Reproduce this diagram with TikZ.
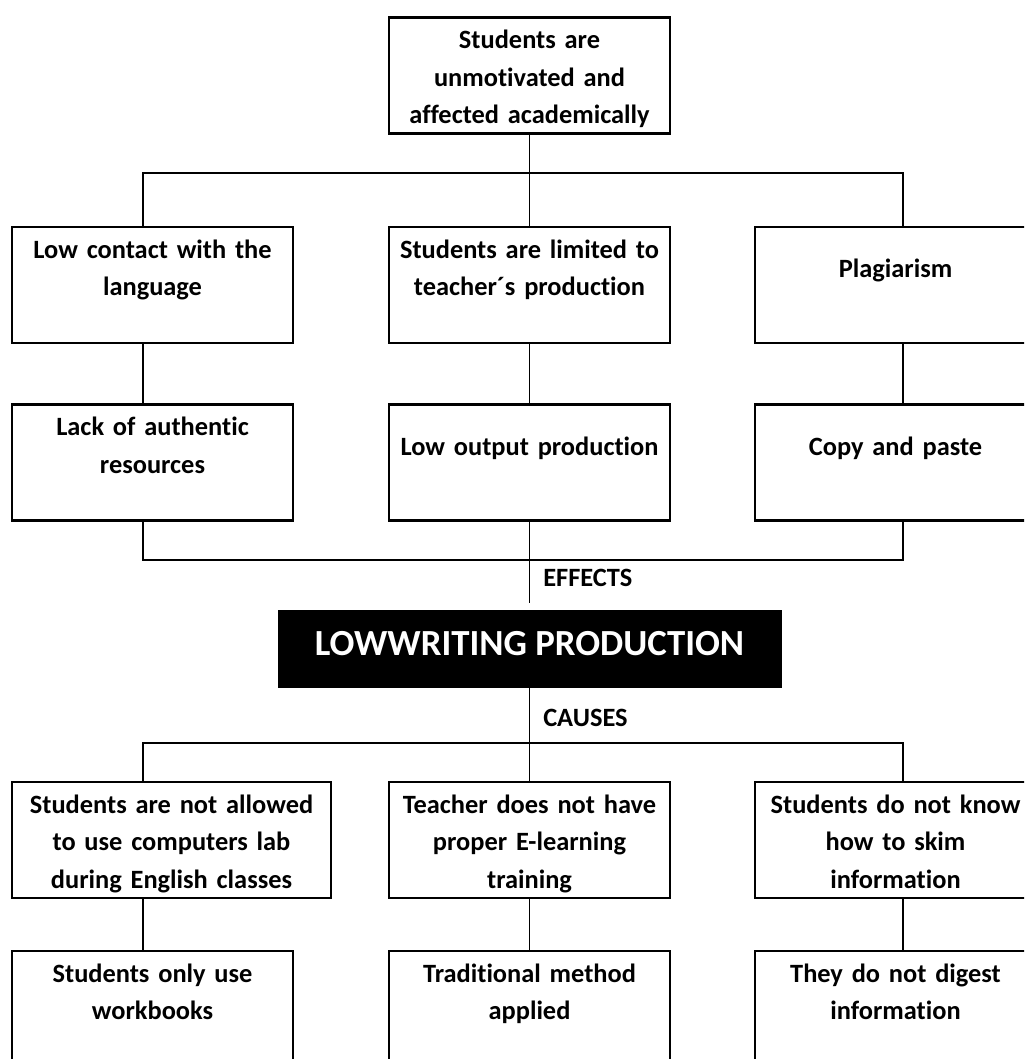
\documentclass[tikz,border=0pt]{standalone}
\usepackage{fontspec}
\setmainfont[Ligatures=NoCommon]{Carlito}
\usetikzlibrary{positioning}

\begin{document}
\begin{tikzpicture}[
  x=0.75pt, y=-0.75pt,
  font=\fontsize{19.8}{28.1}\selectfont\bfseries,
  box/.style={draw, line width=2.2pt, align=center, inner sep=0pt, text width=210.75pt, minimum height=87pt, text height=23.6pt, text depth=63.4pt, fill=white},
  onebox/.style={box, text height=37.9pt, text depth=49.1pt},
  widebox/.style={box, text width=239.25pt},
  core/.style={fill=black, text=white, inner sep=0pt, minimum width=378pt, minimum height=58.5pt, text depth=9pt, font=\fontsize{27.6}{33}\selectfont\bfseries},
  link/.style={line width=1.3pt},
  tag/.style={anchor=west, inner sep=0pt},
]
\useasboundingbox (0,0) rectangle (1024,1059);
\clip (0,0) rectangle (1024,1059);

% --- column lines and bus rows ---------------------------------------------
\coordinate (colL) at (143,0);
\coordinate (colR) at (903,0);
\coordinate (effbus) at (529.5,173);
\coordinate (joinbus) at (529.5,560);
\coordinate (stub) at (529.5,603);
\coordinate (causebus) at (529.5,743);

% --- effects ---------------------------------------------------------------
\node[box] (top) at (529.5,75.5) {Students are\\unmotivated and\\affected academically};
\node[box] (low) at (152.5,285) {Low contact with the\\language};
\node[box] (limit) at (529.5,285) {Students are limited to\\teacher´s production};
\node[onebox] (plag) at (895.5,285) {Plagiarism};
\node[box] (lack) at (152.5,462.5) {Lack of authentic\\resources};
\node[onebox] (output) at (529.5,462.5) {Low output production};
\node[onebox] (copy) at (895.5,462.5) {Copy and paste};

% --- problem ---------------------------------------------------------------
\node[core] (core) at (529.5,649) {LOWWRITING PRODUCTION};
\node[tag] (effects) at (543,578) {EFFECTS};
\node[tag] (causes) at (543,718) {CAUSES};

% --- causes ----------------------------------------------------------------
\node[widebox] (lab) at (171.5,840) {Students are not allowed\\to use computers lab\\during English classes};
\node[box] (train) at (529.5,840) {Teacher does not have\\proper E-learning\\training};
\node[box] (skim) at (895.5,840) {Students do not know\\how to skim\\information};
\node[box] (books) at (152.5,1009) {Students only use\\workbooks};
\node[box] (method) at (529.5,1009) {Traditional method\\applied};
\node[box] (digest) at (895.5,1009) {They do not digest\\information};

% --- connectors ------------------------------------------------------------
\draw[link] (top.south) -- (limit.north);
\draw[link] (low.north -| colL) |- (effbus) -| (plag.north -| colR);
\draw[link] (low.south -| colL) -- (lack.north -| colL);
\draw[link] (limit.south) -- (output.north);
\draw[link] (plag.south -| colR) -- (copy.north -| colR);
\draw[link] (lack.south -| colL) |- (joinbus) -| (copy.south -| colR);
\draw[link] (output.south) -- (stub);
\draw[link] (core.south) -- (train.north);
\draw[link] (lab.north -| colL) |- (causebus) -| (skim.north -| colR);
\draw[link] (lab.south -| colL) -- (books.north -| colL);
\draw[link] (train.south) -- (method.north);
\draw[link] (skim.south -| colR) -- (digest.north -| colR);
\end{tikzpicture}
\end{document}
